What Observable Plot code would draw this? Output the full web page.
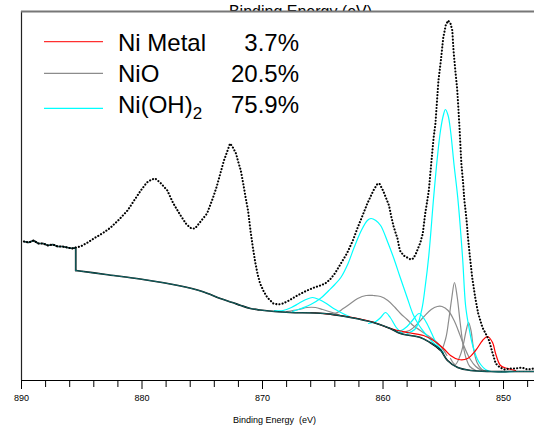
<!DOCTYPE html>
<html><head><meta charset="utf-8">
<script src="https://cdn.jsdelivr.net/npm/d3@7"></script>
<script src="https://cdn.jsdelivr.net/npm/@observablehq/plot@0.6"></script>
<style>body{margin:0;background:#fff} #chart{position:relative;width:534px;height:427px}</style>
</head><body><div id="chart"></div>
<script>
// measured spectrum (binding energy eV, intensity a.u.)
const dataE = [889.8,889.4,889.0,888.6,888.2,887.8,887.4,887.0,886.6,886.2,885.8,885.5,885.1,884.5,884.0,883.3,882.6,881.9,881.2,880.6,880.1,879.6,879.2,878.9,878.5,878.2,877.9,877.4,876.8,876.3,875.9,875.6,875.2,874.6,874.1,873.8,873.5,873.2,872.9,872.7,872.5,872.2,872.0,871.8,871.6,871.4,871.2,871.0,870.8,870.6,870.4,870.2,869.9,869.6,869.1,868.7,868.3,867.8,867.4,866.8,866.3,865.7,865.2,864.8,864.4,864.0,863.5,863.0,862.5,862.1,861.7,861.3,860.8,860.5,860.3,860.0,859.8,859.5,859.3,859.1,858.8,858.6,858.3,858.0,857.7,857.5,857.3,857.1,856.9,856.7,856.5,856.3,856.2,856.0,855.8,855.65,855.5,855.4,855.2,855.0,854.8,854.6,854.4,854.25,854.15,854.0,853.85,853.75,853.65,853.5,853.35,853.25,853.15,853.05,852.95,852.8,852.6,852.35,852.1,851.75,851.4,851.2,850.9,850.65,850.3,849.9,849.5,849.0,848.5,848.0,847.5];
const dataI = [139,138,140,137,137,135,136,134,134,133,132,133,134,138,142,147,153,161,170,181,190,198,201,202,198,194,190,177,165,156,152,152,158,167,183,194,207,220,230,237,234,227,218,210,197,183,170,150,133,118,106,97,89,83,77,76,77,80,83,87,90,93,95,97,101,107,117,127,140,153,165,177,190,196,197,190,184,175,163,153,142,130,125,123,121,122,126,132,138,147,167,182,190,217,243,257,283,300,320,343,355,360,357,350,330,310,292,273,252,217,197,180,170,158,143,125,103,83,67,53,45,40,27,17,13,11,12,12,13,11,12];

// background: region left of the fit window follows the data, then the Shirley curve
const bgLeftE = [889.8,889.4,889.0,888.6,888.2,887.8,887.4,887.0,886.6,886.2,885.8,885.5,885.5];
const bgLeftI = [139,138,140,137,137,135,136,134,134,133,132,133,110];
const bgE = [885.5,883.0,879.9,877.0,875.0,873.5,872.5,871.8,871.0,870.2,869.0,867.7,864.9,862.7,860.8,859.4,858.55,856.9,856.1,855.6,855.2,854.65,853.8,852.7,851.1,849.2,847.4];
const bgI = [110,106,101,95,89,82,78,75,72,70.5,69,68,67,63,58,52,47,43,38,34,30,20,13,10,9,9,9];

// Ni metal component (red)
const metE = [866.0,863.0,861.0,859.38,857.97,856.64,855.81,854.98,854.4,853.73,852.99,852.32,851.74,851.33,850.91,850.66,850.25,849.67,849.0];
const metI = [68,64,59,52,48,45,40,32,25,21,22,30,40,44,38,27,15,12,10];

// NiO components (gray)
const nio1E = [855.6,855.2,854.8,854.55,854.3,854.07,853.85,853.6,853.35,853.1,852.8,852.3];
const nio1I = [34,30,42,60,82,98,84,58,35,22,14,10];
const nio2E = [854.4,854.0,853.6,853.32,853.1,852.9,852.7,852.49,852.2,851.8,851.2];
const nio2I = [22,16,25,37,50,58,50,32,18,11,9];
const nio3E = [858.5,857.8,857.2,856.6,856.0,855.5,855.1,854.6,854.1,853.6,853.2,852.8,852.3,851.8];
const nio3I = [48,50,56,64,71,74,74,70,60,45,32,22,14,10];
const nio4E = [864.5,863.8,863.3,862.7,862.1,861.4,860.8,860.2,859.6,859.0,858.55,858.0,857.5,856.9,856.3,855.8,855.2,854.7];
const nio4I = [67,68,72,77,82,85,85,84,80,73,67,61,55,50,45,41,34,25];
const nio5E = [868.0,867.0,866.3,865.6,865.0,864.2,863.3];
const nio5I = [69,71,73,73,71,68,64];

// Ni(OH)2 components (cyan)
const hyd1E = [858.0,857.3,856.8,856.5,856.2,855.8,855.5,855.23,855.0,854.82,854.6,854.4,854.1,853.8,853.4,853.15,852.9,852.6,852.2,851.9,851.5,851.0,849.0];
const hyd1I = [47,52,70,94,125,183,222,250,265,271,265,250,215,183,123,75,55,37,22,16,11,9,9];
const hyd2E = [867.5,866.8,866.0,865.2,864.5,864.0,863.5,862.9,862.4,861.8,861.3,861.0,860.6,860.2,859.6,859.1,858.6,858.0,857.5,857.0,856.5,856.0,855.5,855.0];
const hyd2I = [69,72,76,82,90,96,103,117,133,150,160,162,160,155,138,122,104,83,66,55,47,40,34,27];
const hyd3E = [869.0,868.3,867.6,867.0,866.4,865.85,865.3,864.7,864.1,863.5,862.8];
const hyd3I = [70,70,73,77,81,83,81,77,72,68,64];
const hyd4E = [861.2,860.6,860.2,859.8,859.4,858.9,858.4];
const hyd4I = [57,59,63,68,63,53,47];
const hyd5E = [859.0,858.5,858.0,857.5,857.0,856.5,856.0,855.6,855.0];
const hyd5I = [50,50,54,61,67,60,48,38,28];

const majorTicks = [890,880,870,860,850];
const minorTicks = [888,886,884,882,878,876,874,872,868,866,864,862,858,856,854,852,848];
const xLabel = "Binding Energy  (eV)";
const topLabel = "Binding Energy (eV)";
const legendNames = ["Ni Metal","NiO","Ni(OH)"];
const legendPct = ["3.7%","20.5%","75.9%"];
const legendColors = ["#ff3030","#8c8c8c","#00ffff"];

const rows = (E, I) => E.map((e, k) => ({e, i: I[k]}));
const data = rows(dataE, dataI), bgL = rows(bgLeftE, bgLeftI), bg = rows(bgE, bgI);
const gray = [rows(nio1E,nio1I),rows(nio2E,nio2I),rows(nio3E,nio3I),rows(nio4E,nio4I),rows(nio5E,nio5I)];
const cyan = [rows(hyd1E,hyd1I),rows(hyd2E,hyd2I),rows(hyd3E,hyd3I),rows(hyd4E,hyd4I),rows(hyd5E,hyd5I)];
const red = [rows(metE, metI)];

const comp = (arr, color) => arr.map(d => Plot.line(d, {x:"e", y:"i", stroke: color, strokeWidth: 1.2, curve: "catmull-rom"}));
const bgLines = (stroke, w) => [
  Plot.line(bgL, {x:"e", y:"i", stroke, strokeWidth: w}),
  Plot.line(bg, {x:"e", y:"i", stroke, strokeWidth: w, curve: "catmull-rom"})
];

const chart = Plot.plot({
  width: 534, height: 427,
  marginLeft: 21, marginRight: 0, marginTop: 11, marginBottom: 47,
  style: {fontFamily: "'Liberation Sans', Arial, sans-serif", fontSize: "9px", background: "transparent", overflow: "visible"},
  x: {domain: [890, 847.43]},
  y: {domain: [0, 369], axis: null},
  marks: [
    Plot.text([topLabel], {frameAnchor: "top", dx: 22.5, dy: -6, lineAnchor: "top", fontSize: 16, fill: "#000"}),
    Plot.frame({fill: "white", stroke: "none"}),
    ...comp(gray, "#8c8c8c"),
    ...comp(cyan, "#00ffff"),
    ...comp(red, "#ff0000"),
    ...bgLines("#000", 1.7),
    ...bgLines("#1fb0b0", 0.6),
    Plot.line(data, {x:"e", y:"i", stroke:"#000", strokeWidth: 2.1, strokeDasharray: "0.1,3.1", strokeLinecap: "round"}),
    Plot.ruleX([890], {stroke: "#222", strokeWidth: 1.2}),
    Plot.ruleY([369], {stroke: "#777", strokeWidth: 2}),
    Plot.ruleY([0], {stroke: "#000", strokeWidth: 1}),
    Plot.axisX({ticks: majorTicks, tickSize: 9, tickPadding: 5, tickFormat: d => String(d), label: null}),
    Plot.axisX({ticks: minorTicks, tickSize: 7, tickFormat: () => "", label: null}),
    Plot.text([xLabel], {frameAnchor: "bottom", dx: -3.5, dy: 42, fontSize: 9, fill: "#000"})
  ]
});
document.getElementById("chart").appendChild(chart);

// legend inside plot area
const svg = d3.select(chart);
const lg = svg.append("g").attr("font-family", "'Liberation Sans', Arial, sans-serif").attr("font-size", 24).attr("fill", "#000").attr("text-anchor", "start");
const lineY = [41.7, 73.3, 108.3], baseY = [51, 81.7, 112.7];
legendNames.forEach((n, k) => {
  lg.append("line").attr("x1", 44).attr("x2", 103).attr("y1", lineY[k]).attr("y2", lineY[k]).attr("stroke", legendColors[k]).attr("stroke-width", 1.3);
  const t = lg.append("text").attr("x", 118).attr("y", baseY[k]).attr("text-anchor", "start").text(n);
  if (k === 2) t.append("tspan").attr("font-size", 17).attr("dy", 6).text("2");
  lg.append("text").attr("x", 299).attr("y", baseY[k]).attr("text-anchor", "end").text(legendPct[k]);
});
</script></body></html>
